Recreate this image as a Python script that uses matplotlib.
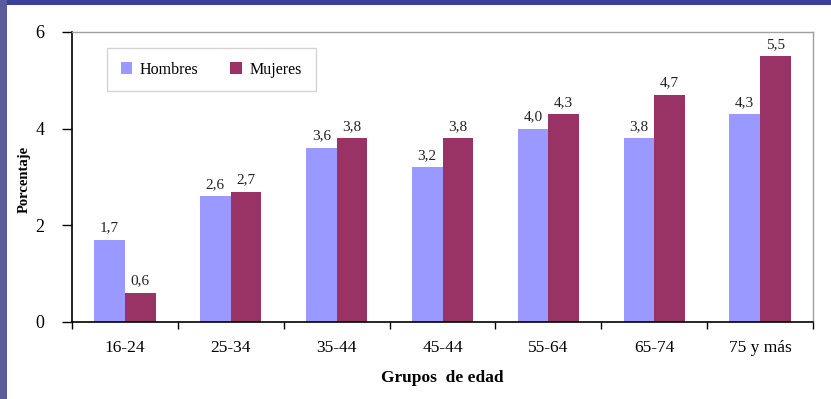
import numpy as np
import matplotlib
matplotlib.use('Agg')
import matplotlib.pyplot as plt
from matplotlib.patches import Rectangle

#---DATA
grupos = ['16-24', '25-34', '35-44', '45-44', '55-64', '65-74', '75 y más']
hombres = [1.7, 2.6, 3.6, 3.2, 4.0, 3.8, 4.3]
mujeres = [0.6, 2.7, 3.8, 3.8, 4.3, 4.7, 5.5]
etiquetas_h = ['1,7', '2,6', '3,6', '3,2', '4,0', '3,8', '4,3']
etiquetas_m = ['0,6', '2,7', '3,8', '3,8', '4,3', '4,7', '5,5']

plt.rcParams['font.family'] = ['Liberation Serif', 'DejaVu Serif']

W, H = 831, 399
fig = plt.figure(figsize=(W / 100, H / 100), dpi=100)
fig.patch.set_facecolor('#3d409a')

#---SLIDE BACKGROUND (white panel over blue frame)
fig.patches.append(Rectangle((7 / W, 0), 1 - 7 / W, 1 - 5 / H, transform=fig.transFigure,
                             facecolor='white', edgecolor='none', zorder=-10))
fig.patches.append(Rectangle((0, 0), 7 / W, 1, transform=fig.transFigure,
                             facecolor='#5a5c9e', edgecolor='none', zorder=-10))

#---AXES
left, right, top, bottom = 72, 813, 32, 322
ax = fig.add_axes([left / W, 1 - bottom / H, (right - left) / W, (bottom - top) / H])
ax.set_facecolor('white')

x = np.arange(len(grupos))
bw = 0.29
b1 = ax.bar(x - bw / 2, hombres, bw, color='#9999ff', label='Hombres', zorder=2)
b2 = ax.bar(x + bw / 2, mujeres, bw, color='#993366', label='Mujeres', zorder=2)

for rect, lab in zip(b1, etiquetas_h):
    ax.text(rect.get_x() + rect.get_width() / 2, rect.get_height() + 0.11, lab,
            ha='center', va='bottom', fontsize=11, color='#222222')
for rect, lab in zip(b2, etiquetas_m):
    ax.text(rect.get_x() + rect.get_width() / 2, rect.get_height() + 0.11, lab,
            ha='center', va='bottom', fontsize=11, color='#222222')

ax.set_xlim(-0.5, len(grupos) - 0.5)
ax.set_ylim(0, 6)
ax.set_yticks([0, 2, 4, 6])
ax.set_xticks(np.arange(len(grupos) + 1) - 0.5, minor=True)
ax.set_xticks(x)
ax.set_xticklabels(grupos, fontsize=12.5)
ax.tick_params(axis='x', which='major', length=0, pad=13)
ax.tick_params(axis='x', which='minor', length=5, direction='out', width=1)
ax.tick_params(axis='y', labelsize=13, length=7, direction='out', width=1, pad=13)

for s in ['left', 'bottom']:
    ax.spines[s].set_color('black')
    ax.spines[s].set_linewidth(1.2)
for s in ['top', 'right']:
    ax.spines[s].set_color('#a0a0a0')
    ax.spines[s].set_linewidth(1.0)

ax.set_xlabel('Grupos  de edad', fontsize=12.5, fontweight='bold', labelpad=10)
ax.set_ylabel('Porcentaje', fontsize=10.5, fontweight='bold')
ax.yaxis.set_label_coords((31 - left) / (right - left), (bottom - 179) / (bottom - top))

leg = ax.legend(loc='upper left', bbox_to_anchor=((107 - left) / (right - left), 1 - (48 - top) / (bottom - top)),
                ncol=2, fontsize=11.5, frameon=True, fancybox=False, edgecolor='#c8c8c8',
                handlelength=0.7, handleheight=0.7, columnspacing=2.0, borderpad=0.85,
                handletextpad=0.5, borderaxespad=0)
leg.get_frame().set_linewidth(1.0)

fig.savefig('out.png', dpi=100, facecolor=fig.get_facecolor())
